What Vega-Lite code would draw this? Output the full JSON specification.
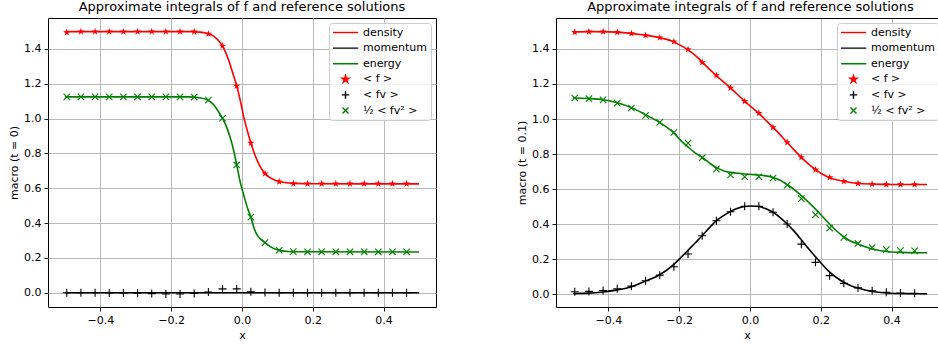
{
  "$schema": "https://vega.github.io/schema/vega-lite/v6.json",
  "padding": {"left": 8, "top": 0, "right": 0, "bottom": 0},
  "spacing": 79,
  "datasets": {
    "t0_lines": [
      {"key": "density", "x": -0.5, "y": 1.5}, {"key": "density", "x": -0.14, "y": 1.5}, {"key": "density", "x": -0.12, "y": 1.497}, {"key": "density", "x": -0.1, "y": 1.49}, {"key": "density", "x": -0.08, "y": 1.474}, {"key": "density", "x": -0.06, "y": 1.432}, {"key": "density", "x": -0.045, "y": 1.375}, {"key": "density", "x": -0.035, "y": 1.32}, {"key": "density", "x": -0.025, "y": 1.255}, {"key": "density", "x": -0.015, "y": 1.19}, {"key": "density", "x": -0.005, "y": 1.105}, {"key": "density", "x": 0.005, "y": 1.01}, {"key": "density", "x": 0.015, "y": 0.93}, {"key": "density", "x": 0.025, "y": 0.86}, {"key": "density", "x": 0.035, "y": 0.8}, {"key": "density", "x": 0.045, "y": 0.75}, {"key": "density", "x": 0.055, "y": 0.712}, {"key": "density", "x": 0.065, "y": 0.684}, {"key": "density", "x": 0.08, "y": 0.66}, {"key": "density", "x": 0.1, "y": 0.642}, {"key": "density", "x": 0.12, "y": 0.633}, {"key": "density", "x": 0.15, "y": 0.628}, {"key": "density", "x": 0.2, "y": 0.626}, {"key": "density", "x": 0.5, "y": 0.625},
      {"key": "momentum", "x": -0.5, "y": 0}, {"key": "momentum", "x": 0.0, "y": 0}, {"key": "momentum", "x": 0.5, "y": 0},
      {"key": "energy", "x": -0.5, "y": 1.125}, {"key": "energy", "x": -0.15, "y": 1.125}, {"key": "energy", "x": -0.12, "y": 1.12}, {"key": "energy", "x": -0.1, "y": 1.109}, {"key": "energy", "x": -0.08, "y": 1.08}, {"key": "energy", "x": -0.065, "y": 1.035}, {"key": "energy", "x": -0.055, "y": 1.002}, {"key": "energy", "x": -0.045, "y": 0.96}, {"key": "energy", "x": -0.035, "y": 0.902}, {"key": "energy", "x": -0.025, "y": 0.83}, {"key": "energy", "x": -0.015, "y": 0.735}, {"key": "energy", "x": -0.005, "y": 0.635}, {"key": "energy", "x": 0.005, "y": 0.56}, {"key": "energy", "x": 0.015, "y": 0.49}, {"key": "energy", "x": 0.025, "y": 0.434}, {"key": "energy", "x": 0.035, "y": 0.365}, {"key": "energy", "x": 0.045, "y": 0.325}, {"key": "energy", "x": 0.055, "y": 0.303}, {"key": "energy", "x": 0.065, "y": 0.288}, {"key": "energy", "x": 0.08, "y": 0.265}, {"key": "energy", "x": 0.095, "y": 0.25}, {"key": "energy", "x": 0.11, "y": 0.242}, {"key": "energy", "x": 0.13, "y": 0.237}, {"key": "energy", "x": 0.16, "y": 0.235}, {"key": "energy", "x": 0.5, "y": 0.234}
    ],
    "t0_points": [
      {"key": "< f >", "x": -0.495, "y": 1.495}, {"key": "< f >", "x": -0.455, "y": 1.5}, {"key": "< f >", "x": -0.415, "y": 1.5}, {"key": "< f >", "x": -0.375, "y": 1.5}, {"key": "< f >", "x": -0.335, "y": 1.5}, {"key": "< f >", "x": -0.295, "y": 1.5}, {"key": "< f >", "x": -0.255, "y": 1.5}, {"key": "< f >", "x": -0.215, "y": 1.5}, {"key": "< f >", "x": -0.175, "y": 1.5}, {"key": "< f >", "x": -0.135, "y": 1.499}, {"key": "< f >", "x": -0.095, "y": 1.487}, {"key": "< f >", "x": -0.055, "y": 1.418}, {"key": "< f >", "x": -0.015, "y": 1.188}, {"key": "< f >", "x": 0.025, "y": 0.86}, {"key": "< f >", "x": 0.065, "y": 0.684}, {"key": "< f >", "x": 0.105, "y": 0.638}, {"key": "< f >", "x": 0.145, "y": 0.627}, {"key": "< f >", "x": 0.185, "y": 0.626}, {"key": "< f >", "x": 0.225, "y": 0.626}, {"key": "< f >", "x": 0.265, "y": 0.626}, {"key": "< f >", "x": 0.305, "y": 0.626}, {"key": "< f >", "x": 0.345, "y": 0.626}, {"key": "< f >", "x": 0.385, "y": 0.626}, {"key": "< f >", "x": 0.425, "y": 0.626}, {"key": "< f >", "x": 0.465, "y": 0.626},
      {"key": "< fv >", "x": -0.495, "y": 0}, {"key": "< fv >", "x": -0.455, "y": 0}, {"key": "< fv >", "x": -0.415, "y": 0}, {"key": "< fv >", "x": -0.375, "y": -0.001}, {"key": "< fv >", "x": -0.335, "y": -0.002}, {"key": "< fv >", "x": -0.295, "y": -0.003}, {"key": "< fv >", "x": -0.255, "y": -0.005}, {"key": "< fv >", "x": -0.215, "y": -0.007}, {"key": "< fv >", "x": -0.175, "y": -0.007}, {"key": "< fv >", "x": -0.135, "y": -0.004}, {"key": "< fv >", "x": -0.095, "y": 0.004}, {"key": "< fv >", "x": -0.055, "y": 0.022}, {"key": "< fv >", "x": -0.015, "y": 0.022}, {"key": "< fv >", "x": 0.025, "y": 0.006}, {"key": "< fv >", "x": 0.065, "y": 0.001}, {"key": "< fv >", "x": 0.105, "y": 0}, {"key": "< fv >", "x": 0.145, "y": 0}, {"key": "< fv >", "x": 0.185, "y": 0}, {"key": "< fv >", "x": 0.225, "y": 0}, {"key": "< fv >", "x": 0.265, "y": 0}, {"key": "< fv >", "x": 0.305, "y": 0}, {"key": "< fv >", "x": 0.345, "y": 0}, {"key": "< fv >", "x": 0.385, "y": 0}, {"key": "< fv >", "x": 0.425, "y": 0}, {"key": "< fv >", "x": 0.465, "y": 0},
      {"key": "½ < fv² >", "x": -0.495, "y": 1.125}, {"key": "½ < fv² >", "x": -0.455, "y": 1.125}, {"key": "½ < fv² >", "x": -0.415, "y": 1.125}, {"key": "½ < fv² >", "x": -0.375, "y": 1.125}, {"key": "½ < fv² >", "x": -0.335, "y": 1.125}, {"key": "½ < fv² >", "x": -0.295, "y": 1.125}, {"key": "½ < fv² >", "x": -0.255, "y": 1.125}, {"key": "½ < fv² >", "x": -0.215, "y": 1.125}, {"key": "½ < fv² >", "x": -0.175, "y": 1.125}, {"key": "½ < fv² >", "x": -0.135, "y": 1.124}, {"key": "½ < fv² >", "x": -0.095, "y": 1.106}, {"key": "½ < fv² >", "x": -0.055, "y": 1.002}, {"key": "½ < fv² >", "x": -0.015, "y": 0.734}, {"key": "½ < fv² >", "x": 0.025, "y": 0.434}, {"key": "½ < fv² >", "x": 0.065, "y": 0.288}, {"key": "½ < fv² >", "x": 0.105, "y": 0.244}, {"key": "½ < fv² >", "x": 0.145, "y": 0.236}, {"key": "½ < fv² >", "x": 0.185, "y": 0.235}, {"key": "½ < fv² >", "x": 0.225, "y": 0.235}, {"key": "½ < fv² >", "x": 0.265, "y": 0.235}, {"key": "½ < fv² >", "x": 0.305, "y": 0.235}, {"key": "½ < fv² >", "x": 0.345, "y": 0.235}, {"key": "½ < fv² >", "x": 0.385, "y": 0.235}, {"key": "½ < fv² >", "x": 0.425, "y": 0.235}, {"key": "½ < fv² >", "x": 0.465, "y": 0.235}
    ],
    "t1_lines": [
      {"key": "density", "x": -0.5, "y": 1.497}, {"key": "density", "x": -0.45, "y": 1.499}, {"key": "density", "x": -0.4, "y": 1.498}, {"key": "density", "x": -0.35, "y": 1.492}, {"key": "density", "x": -0.3, "y": 1.48}, {"key": "density", "x": -0.25, "y": 1.462}, {"key": "density", "x": -0.22, "y": 1.445}, {"key": "density", "x": -0.2, "y": 1.425}, {"key": "density", "x": -0.175, "y": 1.395}, {"key": "density", "x": -0.15, "y": 1.355}, {"key": "density", "x": -0.125, "y": 1.305}, {"key": "density", "x": -0.1, "y": 1.257}, {"key": "density", "x": -0.075, "y": 1.212}, {"key": "density", "x": -0.05, "y": 1.168}, {"key": "density", "x": -0.025, "y": 1.12}, {"key": "density", "x": 0.0, "y": 1.075}, {"key": "density", "x": 0.025, "y": 1.032}, {"key": "density", "x": 0.05, "y": 0.982}, {"key": "density", "x": 0.075, "y": 0.932}, {"key": "density", "x": 0.1, "y": 0.877}, {"key": "density", "x": 0.125, "y": 0.822}, {"key": "density", "x": 0.15, "y": 0.771}, {"key": "density", "x": 0.175, "y": 0.726}, {"key": "density", "x": 0.2, "y": 0.69}, {"key": "density", "x": 0.225, "y": 0.665}, {"key": "density", "x": 0.25, "y": 0.65}, {"key": "density", "x": 0.275, "y": 0.64}, {"key": "density", "x": 0.3, "y": 0.633}, {"key": "density", "x": 0.35, "y": 0.628}, {"key": "density", "x": 0.4, "y": 0.626}, {"key": "density", "x": 0.5, "y": 0.626},
      {"key": "momentum", "x": -0.5, "y": 0.003}, {"key": "momentum", "x": -0.455, "y": 0.005}, {"key": "momentum", "x": -0.415, "y": 0.012}, {"key": "momentum", "x": -0.375, "y": 0.024}, {"key": "momentum", "x": -0.335, "y": 0.042}, {"key": "momentum", "x": -0.295, "y": 0.074}, {"key": "momentum", "x": -0.255, "y": 0.11}, {"key": "momentum", "x": -0.215, "y": 0.17}, {"key": "momentum", "x": -0.196, "y": 0.207}, {"key": "momentum", "x": -0.175, "y": 0.25}, {"key": "momentum", "x": -0.155, "y": 0.292}, {"key": "momentum", "x": -0.135, "y": 0.333}, {"key": "momentum", "x": -0.115, "y": 0.378}, {"key": "momentum", "x": -0.095, "y": 0.419}, {"key": "momentum", "x": -0.075, "y": 0.448}, {"key": "momentum", "x": -0.055, "y": 0.472}, {"key": "momentum", "x": -0.035, "y": 0.49}, {"key": "momentum", "x": -0.015, "y": 0.5}, {"key": "momentum", "x": 0.005, "y": 0.503}, {"key": "momentum", "x": 0.025, "y": 0.5}, {"key": "momentum", "x": 0.045, "y": 0.487}, {"key": "momentum", "x": 0.065, "y": 0.467}, {"key": "momentum", "x": 0.085, "y": 0.437}, {"key": "momentum", "x": 0.105, "y": 0.4}, {"key": "momentum", "x": 0.125, "y": 0.358}, {"key": "momentum", "x": 0.145, "y": 0.31}, {"key": "momentum", "x": 0.165, "y": 0.26}, {"key": "momentum", "x": 0.185, "y": 0.213}, {"key": "momentum", "x": 0.205, "y": 0.167}, {"key": "momentum", "x": 0.225, "y": 0.125}, {"key": "momentum", "x": 0.245, "y": 0.093}, {"key": "momentum", "x": 0.265, "y": 0.067}, {"key": "momentum", "x": 0.285, "y": 0.048}, {"key": "momentum", "x": 0.305, "y": 0.034}, {"key": "momentum", "x": 0.325, "y": 0.023}, {"key": "momentum", "x": 0.345, "y": 0.015}, {"key": "momentum", "x": 0.385, "y": 0.006}, {"key": "momentum", "x": 0.425, "y": 0.003}, {"key": "momentum", "x": 0.465, "y": 0.002}, {"key": "momentum", "x": 0.5, "y": 0.001},
      {"key": "energy", "x": -0.5, "y": 1.12}, {"key": "energy", "x": -0.455, "y": 1.117}, {"key": "energy", "x": -0.415, "y": 1.11}, {"key": "energy", "x": -0.375, "y": 1.093}, {"key": "energy", "x": -0.335, "y": 1.065}, {"key": "energy", "x": -0.295, "y": 1.025}, {"key": "energy", "x": -0.255, "y": 0.98}, {"key": "energy", "x": -0.215, "y": 0.92}, {"key": "energy", "x": -0.196, "y": 0.878}, {"key": "energy", "x": -0.175, "y": 0.84}, {"key": "energy", "x": -0.155, "y": 0.807}, {"key": "energy", "x": -0.135, "y": 0.78}, {"key": "energy", "x": -0.115, "y": 0.749}, {"key": "energy", "x": -0.095, "y": 0.722}, {"key": "energy", "x": -0.075, "y": 0.705}, {"key": "energy", "x": -0.055, "y": 0.695}, {"key": "energy", "x": -0.035, "y": 0.69}, {"key": "energy", "x": -0.015, "y": 0.686}, {"key": "energy", "x": 0.005, "y": 0.683}, {"key": "energy", "x": 0.025, "y": 0.68}, {"key": "energy", "x": 0.045, "y": 0.675}, {"key": "energy", "x": 0.065, "y": 0.666}, {"key": "energy", "x": 0.085, "y": 0.65}, {"key": "energy", "x": 0.105, "y": 0.625}, {"key": "energy", "x": 0.125, "y": 0.597}, {"key": "energy", "x": 0.145, "y": 0.562}, {"key": "energy", "x": 0.165, "y": 0.525}, {"key": "energy", "x": 0.185, "y": 0.485}, {"key": "energy", "x": 0.205, "y": 0.442}, {"key": "energy", "x": 0.225, "y": 0.4}, {"key": "energy", "x": 0.245, "y": 0.36}, {"key": "energy", "x": 0.265, "y": 0.326}, {"key": "energy", "x": 0.285, "y": 0.302}, {"key": "energy", "x": 0.305, "y": 0.286}, {"key": "energy", "x": 0.325, "y": 0.27}, {"key": "energy", "x": 0.345, "y": 0.257}, {"key": "energy", "x": 0.365, "y": 0.249}, {"key": "energy", "x": 0.385, "y": 0.243}, {"key": "energy", "x": 0.425, "y": 0.238}, {"key": "energy", "x": 0.465, "y": 0.236}, {"key": "energy", "x": 0.5, "y": 0.236}
    ],
    "t1_points": [
      {"key": "< f >", "x": -0.495, "y": 1.496}, {"key": "< f >", "x": -0.455, "y": 1.499}, {"key": "< f >", "x": -0.415, "y": 1.499}, {"key": "< f >", "x": -0.375, "y": 1.496}, {"key": "< f >", "x": -0.335, "y": 1.489}, {"key": "< f >", "x": -0.295, "y": 1.478}, {"key": "< f >", "x": -0.255, "y": 1.465}, {"key": "< f >", "x": -0.215, "y": 1.442}, {"key": "< f >", "x": -0.175, "y": 1.398}, {"key": "< f >", "x": -0.135, "y": 1.323}, {"key": "< f >", "x": -0.095, "y": 1.249}, {"key": "< f >", "x": -0.055, "y": 1.177}, {"key": "< f >", "x": -0.015, "y": 1.101}, {"key": "< f >", "x": 0.025, "y": 1.033}, {"key": "< f >", "x": 0.065, "y": 0.952}, {"key": "< f >", "x": 0.105, "y": 0.866}, {"key": "< f >", "x": 0.145, "y": 0.781}, {"key": "< f >", "x": 0.185, "y": 0.71}, {"key": "< f >", "x": 0.225, "y": 0.666}, {"key": "< f >", "x": 0.265, "y": 0.644}, {"key": "< f >", "x": 0.305, "y": 0.632}, {"key": "< f >", "x": 0.345, "y": 0.628}, {"key": "< f >", "x": 0.385, "y": 0.626}, {"key": "< f >", "x": 0.425, "y": 0.626}, {"key": "< f >", "x": 0.465, "y": 0.626},
      {"key": "< fv >", "x": -0.495, "y": 0.013}, {"key": "< fv >", "x": -0.455, "y": 0.015}, {"key": "< fv >", "x": -0.415, "y": 0.02}, {"key": "< fv >", "x": -0.375, "y": 0.03}, {"key": "< fv >", "x": -0.335, "y": 0.045}, {"key": "< fv >", "x": -0.295, "y": 0.076}, {"key": "< fv >", "x": -0.255, "y": 0.108}, {"key": "< fv >", "x": -0.215, "y": 0.156}, {"key": "< fv >", "x": -0.175, "y": 0.229}, {"key": "< fv >", "x": -0.135, "y": 0.333}, {"key": "< fv >", "x": -0.095, "y": 0.419}, {"key": "< fv >", "x": -0.055, "y": 0.47}, {"key": "< fv >", "x": -0.015, "y": 0.501}, {"key": "< fv >", "x": 0.025, "y": 0.501}, {"key": "< fv >", "x": 0.065, "y": 0.467}, {"key": "< fv >", "x": 0.105, "y": 0.4}, {"key": "< fv >", "x": 0.145, "y": 0.285}, {"key": "< fv >", "x": 0.185, "y": 0.181}, {"key": "< fv >", "x": 0.225, "y": 0.105}, {"key": "< fv >", "x": 0.265, "y": 0.061}, {"key": "< fv >", "x": 0.305, "y": 0.035}, {"key": "< fv >", "x": 0.345, "y": 0.019}, {"key": "< fv >", "x": 0.385, "y": 0.01}, {"key": "< fv >", "x": 0.425, "y": 0.006}, {"key": "< fv >", "x": 0.465, "y": 0.004},
      {"key": "½ < fv² >", "x": -0.495, "y": 1.12}, {"key": "½ < fv² >", "x": -0.455, "y": 1.116}, {"key": "½ < fv² >", "x": -0.415, "y": 1.109}, {"key": "½ < fv² >", "x": -0.375, "y": 1.091}, {"key": "½ < fv² >", "x": -0.335, "y": 1.063}, {"key": "½ < fv² >", "x": -0.295, "y": 1.021}, {"key": "½ < fv² >", "x": -0.255, "y": 0.981}, {"key": "½ < fv² >", "x": -0.215, "y": 0.923}, {"key": "½ < fv² >", "x": -0.175, "y": 0.862}, {"key": "½ < fv² >", "x": -0.135, "y": 0.779}, {"key": "½ < fv² >", "x": -0.095, "y": 0.714}, {"key": "½ < fv² >", "x": -0.055, "y": 0.68}, {"key": "½ < fv² >", "x": -0.015, "y": 0.67}, {"key": "½ < fv² >", "x": 0.025, "y": 0.67}, {"key": "½ < fv² >", "x": 0.065, "y": 0.663}, {"key": "½ < fv² >", "x": 0.105, "y": 0.622}, {"key": "½ < fv² >", "x": 0.145, "y": 0.545}, {"key": "½ < fv² >", "x": 0.185, "y": 0.453}, {"key": "½ < fv² >", "x": 0.225, "y": 0.377}, {"key": "½ < fv² >", "x": 0.265, "y": 0.324}, {"key": "½ < fv² >", "x": 0.305, "y": 0.289}, {"key": "½ < fv² >", "x": 0.345, "y": 0.266}, {"key": "½ < fv² >", "x": 0.385, "y": 0.254}, {"key": "½ < fv² >", "x": 0.425, "y": 0.248}, {"key": "½ < fv² >", "x": 0.465, "y": 0.247}
    ]
  },
  "hconcat": [
    {
      "title": {"text": "Approximate integrals of f and reference solutions"},
      "width": 388,
      "height": 289,
      "layer": [
        {
          "data": {"name": "t0_lines"},
          "mark": {"type": "line", "strokeWidth": 1.6, "interpolate": "monotone"},
          "encoding": {
            "x": {"field": "x", "type": "quantitative", "scale": {"domain": [-0.548, 0.548], "nice": false, "zero": false}, "axis": {"values": [-0.4, -0.2, 0, 0.2, 0.4], "format": ".1f", "title": "x", "grid": true}},
            "y": {"field": "y", "type": "quantitative", "scale": {"domain": [-0.082, 1.578], "nice": false, "zero": false}, "axis": {"values": [0, 0.2, 0.4, 0.6, 0.8, 1.0, 1.2, 1.4], "format": ".1f", "title": "macro (t = 0)", "grid": true}},
            "color": {"field": "key", "type": "nominal", "scale": {"domain": ["density", "momentum", "energy", "< f >", "< fv >", "½ < fv² >"], "range": ["#ff0000", "#000000", "#008000", "#ff0000", "#000000", "#008000"]},
              "legend": {"orient": "none", "legendX": 281, "legendY": 5,
                "encode": {"symbols": {"update": {
                  "shape": {"signal": "datum.index < 3 ? 'M-3.4,0L3.4,0' : datum.index == 3 ? 'M0,-1L0.2245,-0.309L0.951,-0.309L0.363,0.118L0.588,0.809L0,0.382L-0.588,0.809L-0.363,0.118L-0.951,-0.309L-0.2245,-0.309Z' : datum.index == 4 ? 'M-1,0L1,0M0,-1L0,1' : 'M-0.8,-0.8L0.8,0.8M-0.8,0.8L0.8,-0.8'"},
                  "fill": {"signal": "datum.index == 3 ? '#ff0000' : 'transparent'"},
                  "stroke": {"signal": "datum.index % 3 == 0 ? '#ff0000' : datum.index % 3 == 1 ? '#000000' : '#008000'"},
                  "strokeWidth": {"value": 1.4},
                  "opacity": {"value": 1}
                }}}}},
            "detail": {"field": "key"}
          }
        },
        {
          "data": {"name": "t0_points"},
          "transform": [{"filter": "datum.key == '< f >'"}],
          "mark": {"type": "point", "shape": "M0,-1L0.2245,-0.309L0.951,-0.309L0.363,0.118L0.588,0.809L0,0.382L-0.588,0.809L-0.363,0.118L-0.951,-0.309L-0.2245,-0.309Z", "filled": true, "size": 60, "opacity": 1, "strokeWidth": 0.6},
          "encoding": {"x": {"field": "x", "type": "quantitative"}, "y": {"field": "y", "type": "quantitative"}, "color": {"field": "key", "type": "nominal"}}
        },
        {
          "data": {"name": "t0_points"},
          "transform": [{"filter": "datum.key == '< fv >'"}],
          "mark": {"type": "point", "shape": "M-1,0L1,0M0,-1L0,1", "filled": false, "size": 64, "opacity": 1, "strokeWidth": 1.1},
          "encoding": {"x": {"field": "x", "type": "quantitative"}, "y": {"field": "y", "type": "quantitative"}, "color": {"field": "key", "type": "nominal"}}
        },
        {
          "data": {"name": "t0_points"},
          "transform": [{"filter": "datum.key == '½ < fv² >'"}],
          "mark": {"type": "point", "shape": "M-0.8,-0.8L0.8,0.8M-0.8,0.8L0.8,-0.8", "filled": false, "size": 64, "opacity": 1, "strokeWidth": 1.1},
          "encoding": {"x": {"field": "x", "type": "quantitative"}, "y": {"field": "y", "type": "quantitative"}, "color": {"field": "key", "type": "nominal"}}
        }
      ]
    },
    {
      "title": {"text": "Approximate integrals of f and reference solutions", "dx": 3.5},
      "width": 382,
      "height": 289,
      "view": {"stroke": null},
      "resolve": {"axis": {"x": "independent"}},
      "layer": [
        {
          "data": {"name": "t1_lines"},
          "mark": {"type": "line", "strokeWidth": 1.6, "interpolate": "monotone"},
          "encoding": {
            "x": {"field": "x", "type": "quantitative", "scale": {"domain": [-0.548, 0.531], "nice": false, "zero": false}, "axis": {"values": [-0.4, -0.2, 0, 0.2, 0.4], "format": ".1f", "title": "x", "grid": true, "domain": true}},
            "y": {"field": "y", "type": "quantitative", "scale": {"domain": [-0.074, 1.577], "nice": false, "zero": false}, "axis": {"values": [0, 0.2, 0.4, 0.6, 0.8, 1.0, 1.2, 1.4], "format": ".1f", "title": "macro (t = 0.1)", "grid": true, "domain": true}},
            "color": {"field": "key", "type": "nominal", "scale": {"domain": ["density", "momentum", "energy", "< f >", "< fv >", "½ < fv² >"], "range": ["#ff0000", "#000000", "#008000", "#ff0000", "#000000", "#008000"]},
              "legend": {"orient": "none", "legendX": 281, "legendY": 5,
                "encode": {"symbols": {"update": {
                  "shape": {"signal": "datum.index < 3 ? 'M-3.4,0L3.4,0' : datum.index == 3 ? 'M0,-1L0.2245,-0.309L0.951,-0.309L0.363,0.118L0.588,0.809L0,0.382L-0.588,0.809L-0.363,0.118L-0.951,-0.309L-0.2245,-0.309Z' : datum.index == 4 ? 'M-1,0L1,0M0,-1L0,1' : 'M-0.8,-0.8L0.8,0.8M-0.8,0.8L0.8,-0.8'"},
                  "fill": {"signal": "datum.index == 3 ? '#ff0000' : 'transparent'"},
                  "stroke": {"signal": "datum.index % 3 == 0 ? '#ff0000' : datum.index % 3 == 1 ? '#000000' : '#008000'"},
                  "strokeWidth": {"value": 1.4},
                  "opacity": {"value": 1}
                }}}}},
            "detail": {"field": "key"}
          }
        },
        {
          "data": {"name": "t1_points"},
          "transform": [{"filter": "datum.key == '< f >'"}],
          "mark": {"type": "point", "shape": "M0,-1L0.2245,-0.309L0.951,-0.309L0.363,0.118L0.588,0.809L0,0.382L-0.588,0.809L-0.363,0.118L-0.951,-0.309L-0.2245,-0.309Z", "filled": true, "size": 60, "opacity": 1, "strokeWidth": 0.6},
          "encoding": {"x": {"field": "x", "type": "quantitative", "axis": {"orient": "top", "labels": false, "ticks": false, "grid": false, "domain": true, "title": null}}, "y": {"field": "y", "type": "quantitative"}, "color": {"field": "key", "type": "nominal"}}
        },
        {
          "data": {"name": "t1_points"},
          "transform": [{"filter": "datum.key == '< fv >'"}],
          "mark": {"type": "point", "shape": "M-1,0L1,0M0,-1L0,1", "filled": false, "size": 64, "opacity": 1, "strokeWidth": 1.1},
          "encoding": {"x": {"field": "x", "type": "quantitative", "axis": null}, "y": {"field": "y", "type": "quantitative"}, "color": {"field": "key", "type": "nominal"}}
        },
        {
          "data": {"name": "t1_points"},
          "transform": [{"filter": "datum.key == '½ < fv² >'"}],
          "mark": {"type": "point", "shape": "M-0.8,-0.8L0.8,0.8M-0.8,0.8L0.8,-0.8", "filled": false, "size": 64, "opacity": 1, "strokeWidth": 1.1},
          "encoding": {"x": {"field": "x", "type": "quantitative", "axis": null}, "y": {"field": "y", "type": "quantitative"}, "color": {"field": "key", "type": "nominal"}}
        }
      ]
    }
  ],
  "resolve": {"scale": {"color": "independent", "x": "independent", "y": "independent"}, "legend": {"color": "independent"}},
  "config": {
    "font": "DejaVu Sans",
    "background": "#ffffff",
    "view": {"stroke": "#000000", "strokeWidth": 1},
    "title": {"font": "DejaVu Sans", "fontSize": 13, "fontWeight": "normal", "color": "#000000", "frame": "group", "anchor": "middle", "offset": 4},
    "axis": {"labelFont": "DejaVu Sans", "labelFontSize": 11, "labelColor": "#000000", "titleFont": "DejaVu Sans", "titleFontSize": 11, "titleFontWeight": "normal", "titleColor": "#000000", "tickColor": "#000000", "tickSize": 4, "tickWidth": 0.9, "labelPadding": 3, "titlePadding": 4, "gridColor": "#b0b0b0", "gridWidth": 0.9, "gridOpacity": 1, "domain": false, "domainColor": "#000000", "domainWidth": 1},
    "legend": {
      "title": null,
      "labelFont": "DejaVu Sans",
      "labelFontSize": 11,
      "labelColor": "#000000",
      "fillColor": "rgba(255,255,255,0.8)",
      "strokeColor": "#cccccc",
      "cornerRadius": 3,
      "padding": 4,
      "rowPadding": 3.6,
      "clipHeight": 11,
      "symbolSize": 56,
      "symbolOffset": 7,
      "labelOffset": 12,
      "symbolType": "stroke"
    }
  }
}
